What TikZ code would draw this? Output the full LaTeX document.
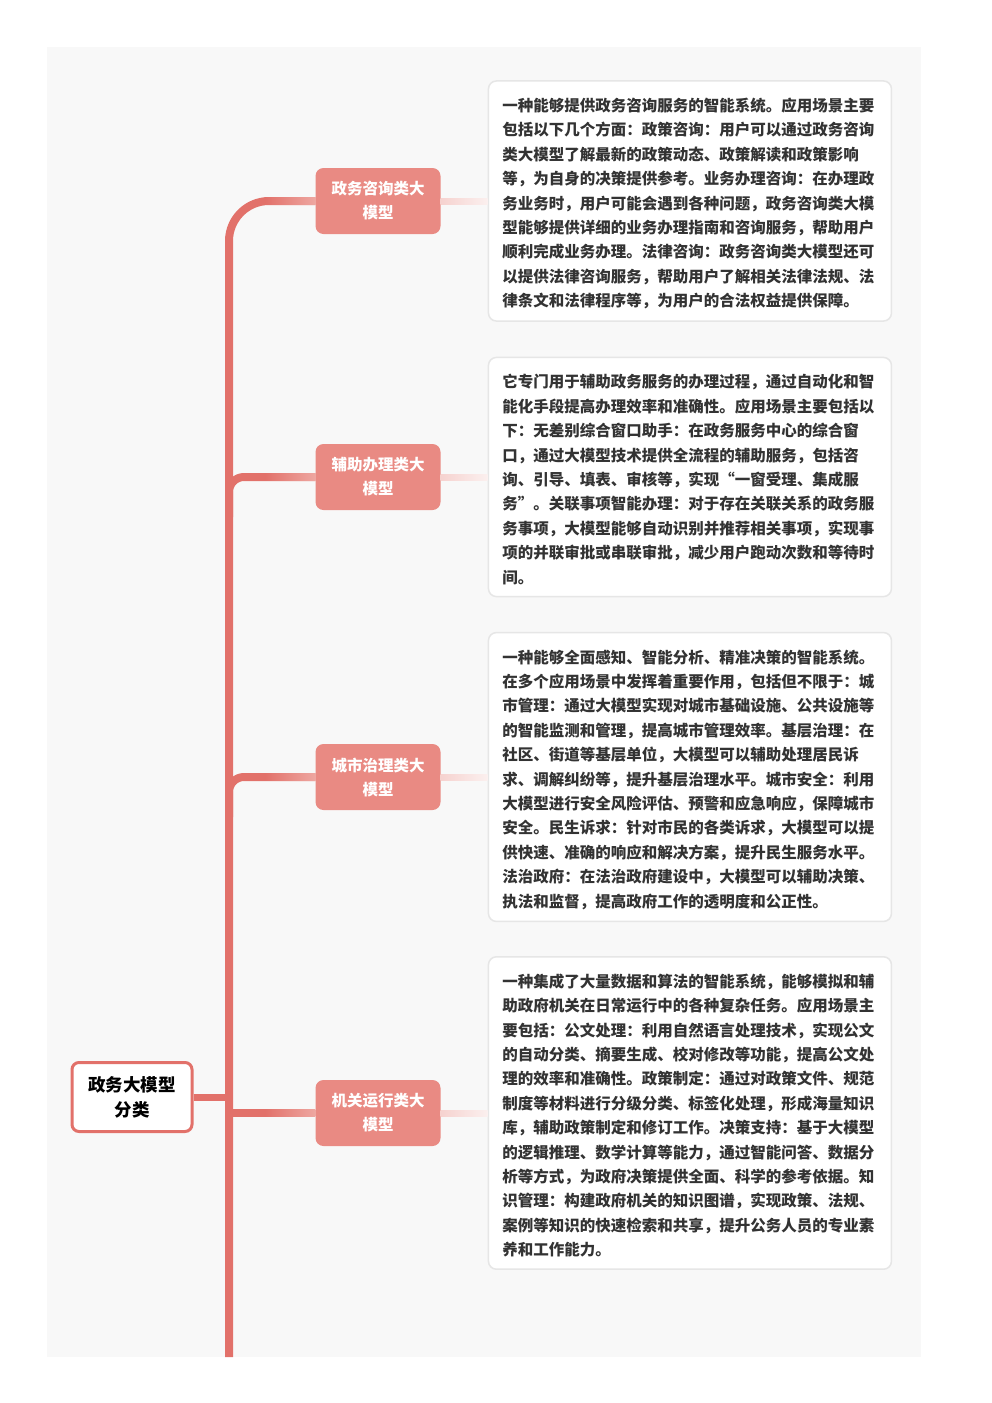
\documentclass[tikz,border=0pt]{standalone}
\usepackage{fontspec}
\newfontfamily\cjk{Noto Sans CJK SC}
\usetikzlibrary{positioning}

\definecolor{bgray}{HTML}{F8F8F8}
\definecolor{trunkred}{HTML}{E2716A}
\definecolor{catred}{HTML}{E98A83}
\definecolor{catlight}{HTML}{EEA7A1}
\definecolor{linkpink}{HTML}{F6D2CF}
\definecolor{linkfade}{HTML}{FBF0EF}
\definecolor{boxline}{HTML}{E6E6E6}
\definecolor{txt}{HTML}{333333}

\tikzset{
  root/.style={draw=trunkred, line width=3pt, fill=white, rounded corners=7pt,
    minimum width=120pt, minimum height=69pt, align=center,
    font=\cjk\bfseries\fontsize{17.5}{25}\selectfont},
  cat/.style={fill=catred, text=white, rounded corners=8pt, minimum width=125pt,
    minimum height=66pt, align=center, font=\cjk\bfseries\fontsize{15.5}{24}\selectfont,
    execute at begin node={\rule{0pt}{18pt}}},
  info/.style={draw=boxline, line width=1.5pt, fill=white, rounded corners=8pt,
    text width=375pt, inner xsep=14pt, inner ysep=12pt, align=left, text=txt,
    font=\cjk\bfseries\fontsize{15.5}{24.4}\selectfont,
    execute at begin node={\rule{0pt}{18.5pt}}},
  trunk/.style={draw=trunkred, line width=8pt}
}

\begin{document}
\begin{tikzpicture}[x=1pt,y=-1pt]

   \useasboundingbox (0,0) rectangle (992,1403);
   \fill[bgray] (47,47) rectangle (921,1357);

   \node[root] (r) at (132,1097) {政务大模型\\分类};

   \node[cat] (c1) at (378,201)  {政务咨询类大\\模型};
   \node[cat] (c2) at (378,477)  {辅助办理类大\\模型};
   \node[cat] (c3) at (378,777)  {城市治理类大\\模型};
   \node[cat] (c4) at (378,1113) {机关运行类大\\模型};

   \node[info, right=47pt of c1] (d1) {一种能够提供政务咨询服务的智能系统。应用场景主要\\
包括以下几个方面：政策咨询：用户可以通过政务咨询\\
类大模型了解最新的政策动态、政策解读和政策影响\\
等，为自身的决策提供参考。业务办理咨询：在办理政\\
务业务时，用户可能会遇到各种问题，政务咨询类大模\\
型能够提供详细的业务办理指南和咨询服务，帮助用户\\
顺利完成业务办理。法律咨询：政务咨询类大模型还可\\
以提供法律咨询服务，帮助用户了解相关法律法规、法\\
律条文和法律程序等，为用户的合法权益提供保障。};
   \node[info, right=47pt of c2] (d2) {它专门用于辅助政务服务的办理过程，通过自动化和智\\
能化手段提高办理效率和准确性。应用场景主要包括以\\
下：无差别综合窗口助手：在政务服务中心的综合窗\\
口，通过大模型技术提供全流程的辅助服务，包括咨\\
询、引导、填表、审核等，实现“一窗受理、集成服\\
务”。关联事项智能办理：对于存在关联关系的政务服\\
务事项，大模型能够自动识别并推荐相关事项，实现事\\
项的并联审批或串联审批，减少用户跑动次数和等待时\\
间。};
   \node[info, right=47pt of c3] (d3) {一种能够全面感知、智能分析、精准决策的智能系统。\\
在多个应用场景中发挥着重要作用，包括但不限于：城\\
市管理：通过大模型实现对城市基础设施、公共设施等\\
的智能监测和管理，提高城市管理效率。基层治理：在\\
社区、街道等基层单位，大模型可以辅助处理居民诉\\
求、调解纠纷等，提升基层治理水平。城市安全：利用\\
大模型进行安全风险评估、预警和应急响应，保障城市\\
安全。民生诉求：针对市民的各类诉求，大模型可以提\\
供快速、准确的响应和解决方案，提升民生服务水平。\\
法治政府：在法治政府建设中，大模型可以辅助决策、\\
执法和监督，提高政府工作的透明度和公正性。};
   \node[info, right=47pt of c4] (d4) {一种集成了大量数据和算法的智能系统，能够模拟和辅\\
助政府机关在日常运行中的各种复杂任务。应用场景主\\
要包括：公文处理：利用自然语言处理技术，实现公文\\
的自动分类、摘要生成、校对修改等功能，提高公文处\\
理的效率和准确性。政策制定：通过对政策文件、规范\\
制度等材料进行分级分类、标签化处理，形成海量知识\\
库，辅助政策制定和修订工作。决策支持：基于大模型\\
的逻辑推理、数学计算等能力，通过智能问答、数据分\\
析等方式，为政府决策提供全面、科学的参考依据。知\\
识管理：构建政府机关的知识图谱，实现政策、法规、\\
案例等知识的快速检索和共享，提升公务人员的专业素\\
养和工作能力。};

   % trunk and branches
   \coordinate (tb) at (229,1357);
   \draw[trunk, rounded corners=40pt] (tb) |- (c1.west);
   \foreach \i in {2,3}
      \draw[trunk, rounded corners=15pt] ([yshift=-40pt]c\i.west -| tb) |- (c\i.west);
   \draw[trunk] (c4.west -| tb) -- (c4.west);
   \draw[trunk, line width=7pt] (r.east) -- (r.east -| tb);

   \foreach \i in {1,...,4} {
      \shade[left color=trunkred, right color=catlight]
         ([xshift=36pt,yshift=3.5pt]c\i.west -| tb) rectangle ([yshift=-3.5pt]c\i.west);
      \shade[left color=linkpink, right color=linkfade]
         ([yshift=3pt]c\i.east) rectangle ([yshift=-3pt]d\i.west);
   }

\end{tikzpicture}
\end{document}
